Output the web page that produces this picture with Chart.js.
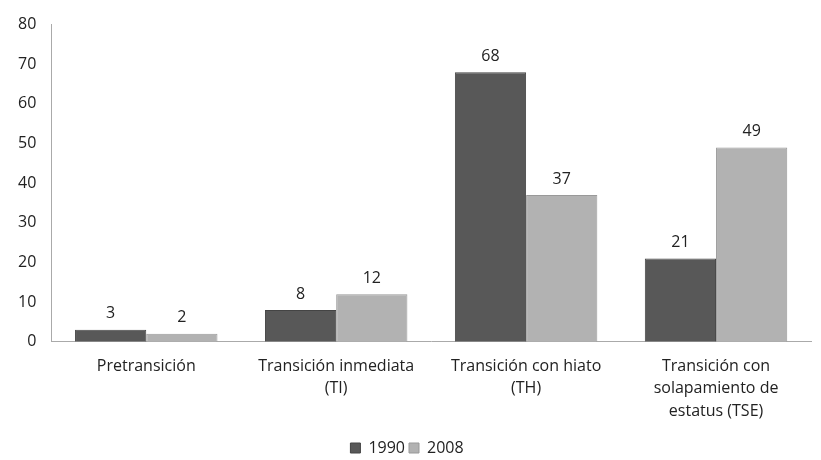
<!DOCTYPE html>
<html>
<head>
<meta charset="utf-8">
<script src="https://cdn.jsdelivr.net/npm/chart.js@4/dist/chart.umd.min.js"></script>
<style>
  html, body { margin: 0; padding: 0; background: #fff; }
  #wrap { width: 821px; height: 460px; }
</style>
</head>
<body>
<div id="wrap"><canvas id="chart"></canvas></div>
<script>
const categories = [
    'Pretransición',
    ['Transición inmediata', '(TI)'],
    ['Transición con hiato', '(TH)'],
    ['Transición con', 'solapamiento de', 'estatus (TSE)']
];
const seriesNames = ['1990', '2008'];
const values1990 = [3, 8, 68, 21];
const values2008 = [2, 12, 37, 49];
const yTicks = [0, 10, 20, 30, 40, 50, 60, 70, 80];

const FONT = 'Open Sans, sans-serif';

// draw the value above every bar
const valueLabels = {
    id: 'valueLabels',
    afterDatasetsDraw(chart) {
        const ctx = chart.ctx;
        ctx.save();
        ctx.fillStyle = '#222';
        ctx.font = '16px ' + FONT;
        ctx.textAlign = 'center';
        ctx.textBaseline = 'bottom';
        chart.data.datasets.forEach((ds, i) => {
            chart.getDatasetMeta(i).data.forEach((bar, j) => {
                ctx.fillText(ds.data[j], bar.x, bar.y - 8);
            });
        });
        ctx.restore();
    }
};

const ctx = document.getElementById('chart').getContext('2d');

new Chart(ctx, {
    type: 'bar',
    data: {
        labels: categories,
        datasets: [{
            label: seriesNames[0],
            data: values1990,
            backgroundColor: '#585858',
            borderColor: '#444',
            borderWidth: 1
        }, {
            label: seriesNames[1],
            data: values2008,
            backgroundColor: '#b2b2b2',
            borderColor: '#999',
            borderWidth: 1
        }]
    },
    options: {
        responsive: true,
        maintainAspectRatio: false,
        animation: false,
        categoryPercentage: 0.75,
        barPercentage: 1.0,
        layout: { padding: { left: 3, right: 10, top: 5, bottom: -6 } },
        plugins: {
            legend: {
                position: 'bottom',
                labels: {
                    boxWidth: 10,
                    boxHeight: 10,
                    padding: 4,
                    color: '#222',
                    font: { family: FONT, size: 16 }
                }
            },
            tooltip: { enabled: false }
        },
        scales: {
            y: {
                min: 0,
                max: 80,
                afterBuildTicks: function (axis) {
                    axis.ticks = yTicks.map(v => ({ value: v }));
                },
                grid: { display: false, drawTicks: false },
                border: { color: '#aaa', width: 1 },
                ticks: {
                    padding: 15,
                    color: '#222',
                    font: { family: FONT, size: 16 }
                }
            },
            x: {
                grid: { display: false, drawTicks: false },
                border: { color: '#aaa', width: 1 },
                ticks: {
                    padding: 14,
                    color: '#222',
                    maxRotation: 0,
                    font: { family: FONT, size: 16, lineHeight: 1.38 }
                }
            }
        }
    },
    plugins: [valueLabels]
});
</script>
</body>
</html>
